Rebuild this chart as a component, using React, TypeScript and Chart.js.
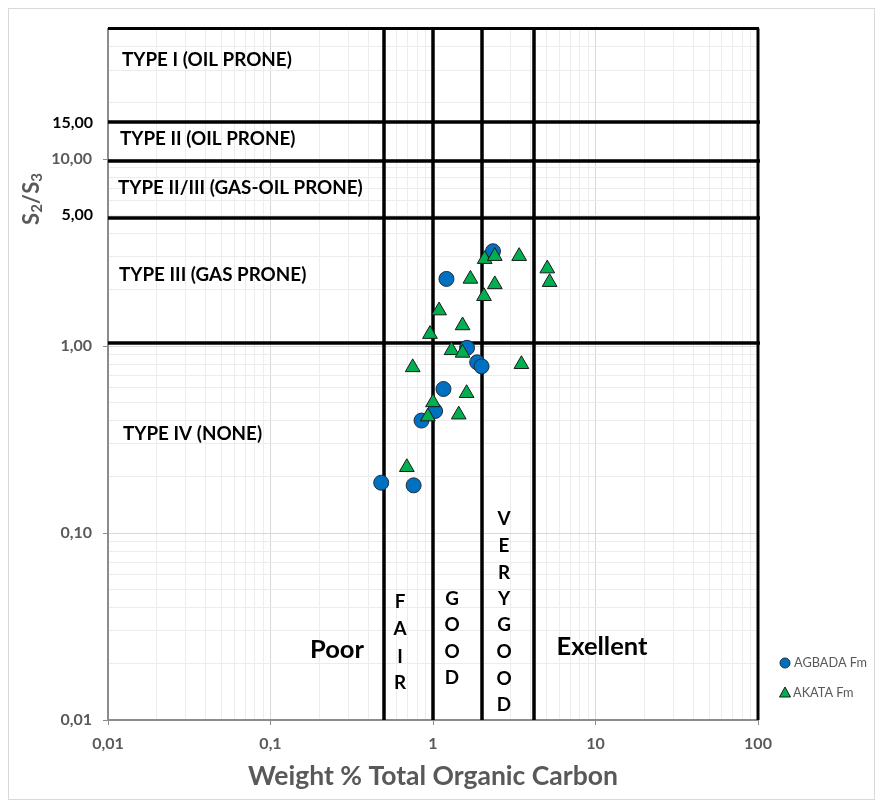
import React, { useEffect, useRef } from 'react';
import { Chart, registerables } from 'chart.js';

Chart.register(...registerables);

// ---- data ----
const agbadaTOC = [2.34, 1.21, 1.62, 1.87, 1.99, 1.16, 1.03, 0.85, 0.48, 0.76];
const agbadaS2S3 = [3.22, 2.29, 0.98, 0.82, 0.78, 0.59, 0.45, 0.4, 0.186, 0.18];

const akataTOC = [2.08, 2.4, 3.39, 5.05, 5.22, 1.7, 2.4, 2.06, 1.09, 1.52, 0.958, 1.3, 1.52, 3.5, 0.75, 1.61, 1.0, 0.93, 1.44, 0.69];
const akataS2S3 = [2.92, 3.03, 3.03, 2.6, 2.2, 2.29, 2.14, 1.85, 1.55, 1.29, 1.16, 0.95, 0.92, 0.8, 0.77, 0.56, 0.5, 0.42, 0.43, 0.225];

// boundary lines (TOC classes and kerogen types)
const boundaryTOC = [0.5, 1, 2, 4.2];
const boundaryS2S3 = [1.04, 4.85, 9.8, 15.8];

// tick labels
const xTickValues = [0.01, 0.1, 1, 10, 100];
const xTickLabels = ['0,01', '0,1', '1', '10', '100'];
const yTickValues = [0.01, 0.1, 1, 10];
const yTickLabels = ['0,01', '0,10', '1,00', '10,00'];

const xMin = 0.01, xMax = 100, yMin = 0.01, yMax = 50;

const FAMILY = 'Lato, "Open Sans", sans-serif';
const GREY = '#595959';

function logTicks(min: number, max: number) {
  const out: { value: number; major: boolean }[] = [];
  const e0 = Math.floor(Math.log10(min));
  const e1 = Math.ceil(Math.log10(max));
  for (let e = e0; e <= e1; e++) {
    for (let s = 1; s <= 9; s++) {
      const v = parseFloat((s * Math.pow(10, e)).toPrecision(6));
      if (v >= min - 1e-12 && v <= max + 1e-12) out.push({ value: v, major: s === 1 });
    }
  }
  return out;
}

function labelFor(v: number, vals: number[], labels: string[]) {
  for (let i = 0; i < vals.length; i++) {
    if (Math.abs(Math.log10(v) - Math.log10(vals[i])) < 1e-6) return labels[i];
  }
  return '';
}

function fitSize(ctx: CanvasRenderingContext2D, text: string, weight: string, target: number) {
  ctx.font = `${weight} 100px ${FAMILY}`;
  const w = ctx.measureText(text).width;
  return (100 * target) / w;
}

export default function App() {
  const ref = useRef<HTMLCanvasElement>(null);

  useEffect(() => {
    const canvas = ref.current!;

    const overlay = {
      id: 'overlay',
      beforeDatasetsDraw(chart: any) {
        const { ctx, chartArea: a, scales } = chart;
        const x = scales.x, y = scales.y;
        ctx.save();
        ctx.strokeStyle = '#000';
        ctx.lineWidth = 3.5;
        for (const v of boundaryTOC) {
          const px = Math.round(x.getPixelForValue(v));
          ctx.beginPath();
          ctx.moveTo(px, a.top);
          ctx.lineTo(px, a.bottom);
          ctx.stroke();
        }
        for (const v of boundaryS2S3) {
          const py = Math.round(y.getPixelForValue(v));
          ctx.beginPath();
          ctx.moveTo(a.left, py);
          ctx.lineTo(a.right + 2, py);
          ctx.stroke();
        }
        // top and right frame
        ctx.lineWidth = 3;
        ctx.beginPath();
        ctx.moveTo(a.left, a.top);
        ctx.lineTo(a.right + 1, a.top);
        ctx.moveTo(a.right, a.top);
        ctx.lineTo(a.right, a.bottom);
        ctx.stroke();
        ctx.restore();
      },
      afterDraw(chart: any) {
        const { ctx, chartArea: a, width, height } = chart;
        ctx.save();
        // outer chart border
        ctx.strokeStyle = '#d9d9d9';
        ctx.lineWidth = 1;
        ctx.strokeRect(0.5, 0.5, width - 1, height - 1);

        ctx.fillStyle = '#000';
        ctx.textBaseline = 'middle';
        // kerogen type labels
        const typeSize = fitSize(ctx, 'TYPE II/III (GAS-OIL PRONE)', 'bold', 245);
        ctx.font = `bold ${typeSize}px ${FAMILY}`;
        ctx.textAlign = 'left';
        const types: [string, number, number][] = [
          ['TYPE I (OIL PRONE)', 14, 52],
          ['TYPE II (OIL PRONE)', 12, 131],
          ['TYPE II/III (GAS-OIL PRONE)', 10, 180],
          ['TYPE III (GAS PRONE)', 11, 267],
          ['TYPE IV (NONE)', 15, 426],
        ];
        for (const [t, dx, yy] of types) ctx.fillText(t, a.left + dx, yy);

        // stacked letters
        ctx.textAlign = 'center';
        const col = (word: string, cx: number, ys: number[]) => {
          word.split('').forEach((ch, i) => ctx.fillText(ch, cx, ys[i]));
        };
        col('FAIR', 392, [594, 621, 649, 675]);
        col('GOOD', 444, [591, 617, 644, 670]);
        col('VERYGOOD', 496, [511, 538, 565, 591, 617, 644, 671, 697]);

        const bigSize = fitSize(ctx, 'Exellent', 'bold', 91);
        ctx.font = `bold ${bigSize}px ${FAMILY}`;
        ctx.fillText('Poor', 329, 642);
        ctx.fillText('Exellent', 594, 639);

        // extra y labels
        ctx.font = `bold 16px ${FAMILY}`;
        ctx.textAlign = 'right';
        ctx.fillText('15,00', 85, 115);
        ctx.fillText('5,00', 85, 207);

        // x title
        const xtSize = fitSize(ctx, 'Weight % Total Organic Carbon', 'bold', 370);
        ctx.font = `bold ${xtSize}px ${FAMILY}`;
        ctx.fillStyle = GREY;
        ctx.textAlign = 'center';
        ctx.fillText('Weight % Total Organic Carbon', (a.left + a.right) / 2, 768);

        // y title  S2/S3 with subscripts
        ctx.translate(24, 191);
        ctx.rotate(-Math.PI / 2);
        const parts: [string, boolean][] = [['S', false], ['2', true], ['/', false], ['S', false], ['3', true]];
        const big = `bold 22px ${FAMILY}`, small = `bold 15px ${FAMILY}`;
        let total = 0;
        for (const [t, sub] of parts) { ctx.font = sub ? small : big; total += ctx.measureText(t).width; }
        let cx = -total / 2;
        ctx.textAlign = 'left';
        for (const [t, sub] of parts) {
          ctx.font = sub ? small : big;
          ctx.fillText(t, cx, sub ? 5 : 0);
          cx += ctx.measureText(t).width;
        }
        ctx.restore();

        // legend
        ctx.save();
        ctx.textBaseline = 'middle';
        ctx.textAlign = 'left';
        const lgSize = fitSize(ctx, 'AGBADA Fm', 'normal', 73);
        ctx.font = `normal ${lgSize}px ${FAMILY}`;
        ctx.fillStyle = '#0070C0';
        ctx.strokeStyle = '#1f2d3d';
        ctx.lineWidth = 1;
        ctx.beginPath();
        ctx.arc(777, 655, 5, 0, Math.PI * 2);
        ctx.fill();
        ctx.stroke();
        ctx.fillStyle = '#00B050';
        ctx.strokeStyle = '#1a1a1a';
        ctx.beginPath();
        ctx.moveTo(777, 679);
        ctx.lineTo(782.5, 689);
        ctx.lineTo(771.5, 689);
        ctx.closePath();
        ctx.fill();
        ctx.stroke();
        ctx.fillStyle = GREY;
        ctx.fillText('AGBADA Fm', 786, 655);
        ctx.fillText('AKATA Fm', 785, 685);
        ctx.restore();
      },
    };

    const gridColor = (c: any) => (c.tick && c.tick.major ? '#d9d9d9' : '#ececec');
    const tickColor = (c: any) => (c.tick && c.tick.major ? '#8c8c8c' : 'rgba(0,0,0,0)');

    const chart = new Chart(canvas, {
      type: 'scatter',
      data: {
        datasets: [
          {
            label: 'AGBADA Fm',
            data: agbadaTOC.map((v, i) => ({ x: v, y: agbadaS2S3[i] })),
            pointStyle: 'circle',
            pointRadius: 7.5,
            pointHoverRadius: 7.5,
            backgroundColor: '#0070C0',
            borderColor: '#1f2d3d',
            borderWidth: 1,
            order: 1,
          },
          {
            label: 'AKATA Fm',
            data: akataTOC.map((v, i) => ({ x: v, y: akataS2S3[i] })),
            pointStyle: 'triangle',
            pointRadius: 8.5,
            pointHoverRadius: 8.5,
            backgroundColor: '#00B050',
            borderColor: '#1a1a1a',
            borderWidth: 1,
            order: 0,
          },
        ],
      },
      options: {
        responsive: false,
        animation: false,
        layout: { padding: { top: 20, right: 117, left: 0, bottom: 0 } },
        plugins: { legend: { display: false }, tooltip: { enabled: false } },
        scales: {
          x: {
            type: 'logarithmic',
            min: xMin,
            max: xMax,
            afterBuildTicks: (s: any) => { s.ticks = logTicks(xMin, xMax); },
            afterFit: (s: any) => { s.height = 80; },
            ticks: {
              autoSkip: false,
              maxRotation: 0,
              minRotation: 0,
              padding: 9,
              color: GREY,
              font: { family: FAMILY, size: 16, weight: 'bold' },
              callback: (v: any) => labelFor(Number(v), xTickValues, xTickLabels),
            },
            grid: { color: gridColor, tickColor, tickLength: 5, lineWidth: 1 },
            border: { color: '#8c8c8c', width: 2 },
          },
          y: {
            type: 'logarithmic',
            min: yMin,
            max: yMax,
            afterBuildTicks: (s: any) => { s.ticks = logTicks(yMin, yMax); },
            afterFit: (s: any) => { s.width = 100; },
            ticks: {
              autoSkip: false,
              padding: 11,
              color: GREY,
              font: { family: FAMILY, size: 16, weight: 'bold' },
              callback: (v: any) => labelFor(Number(v), yTickValues, yTickLabels),
            },
            grid: { color: gridColor, tickColor, tickLength: 5, lineWidth: 1 },
            border: { color: '#8c8c8c', width: 2 },
          },
        },
      } as any,
      plugins: [overlay],
    });

    return () => chart.destroy();
  }, []);

  return (
    <div>
      <canvas ref={ref} width={867} height={792} style={{ display: 'block' }} />
    </div>
  );
}
